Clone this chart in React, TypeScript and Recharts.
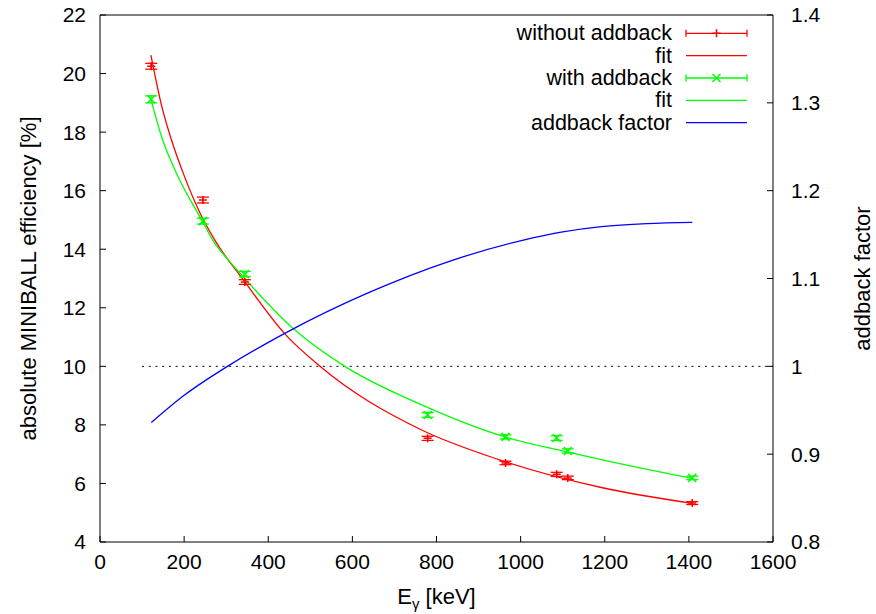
import React from 'react';
import { ComposedChart, Line, Scatter, XAxis, YAxis, ErrorBar, ReferenceLine, Legend } from 'recharts';

// Eu-152 gamma lines [keV]
const energies = [121.8, 244.7, 344.3, 778.9, 964.1, 1085.8, 1112.1, 1408.0];
// efficiency [%] without / with addback
const effWithout = [20.25, 15.68, 12.88, 7.54, 6.70, 6.31, 6.19, 5.33];
const errWithout = [0.1, 0.1, 0.08, 0.07, 0.06, 0.07, 0.06, 0.05];
const effWith = [19.12, 14.96, 13.15, 8.34, 7.59, 7.55, 7.11, 6.19];
const errWith = [0.12, 0.1, 0.09, 0.08, 0.07, 0.08, 0.07, 0.06];

// fit curves
const fitWithoutE = [121, 147, 170, 198, 238, 273, 344, 440, 523, 761, 951, 1189, 1408];
const fitWithoutV = [20.63, 18.87, 17.73, 16.59, 15.23, 14.31, 12.89, 11.1, 10.0, 7.85, 6.8, 5.87, 5.32];
const fitWithE = [121, 149, 182, 244, 268, 307, 344, 460, 582, 761, 965, 1110, 1189, 1408];
const fitWithV = [19.12, 17.73, 16.59, 14.94, 14.31, 13.6, 13.0, 11.28, 10.0, 8.71, 7.58, 7.08, 6.82, 6.17];
// addback factor (right axis)
const factorE = [122, 200, 303, 437, 644, 827, 1009, 1100, 1192, 1300, 1408];
const factorV = [0.936, 0.967, 1.0, 1.037, 1.085, 1.119, 1.144, 1.153, 1.159, 1.1625, 1.164];

const xTicks = [0, 200, 400, 600, 800, 1000, 1200, 1400, 1600];
const leftTicks = [4, 6, 8, 10, 12, 14, 16, 18, 20, 22];
const rightTicks = [0.8, 0.9, 1.0, 1.1, 1.2, 1.3, 1.4];
const unityLine = { from: 100, to: 1600, y: 10 };

const RED = '#ff0000';
const GREEN = '#00ff00';
const BLUE = '#0000ff';
const FONT = '"Liberation Sans", Arial, Helvetica, sans-serif';
const FS = 21;
const TITLE_FS = 22;
const KEY_FS = 21.5;

const PLOT = { left: 100, top: 15, right: 773, bottom: 542 };

const pts = (xs: number[], ys: number[], es?: number[]) =>
  xs.map((x, i) => ({ x, y: ys[i], err: es ? es[i] : 0 }));

const withoutPts = pts(energies, effWithout, errWithout);
const withPts = pts(energies, effWith, errWith);
const fitWithout = pts(fitWithoutE, fitWithoutV);
const fitWith = pts(fitWithE, fitWithV);
const factor = pts(factorE, factorV);

function PlusMark(props: any) {
  const { cx, cy } = props;
  return <path d={`M${cx - 4},${cy}H${cx + 4}M${cx},${cy - 4}V${cy + 4}`} stroke={RED} strokeWidth={1.5} fill="none" />;
}

function CrossMark(props: any) {
  const { cx, cy } = props;
  return (
    <path
      d={`M${cx - 4},${cy - 4}L${cx + 4},${cy + 4}M${cx - 4},${cy + 4}L${cx + 4},${cy - 4}`}
      stroke={GREEN}
      strokeWidth={1.5}
      fill="none"
    />
  );
}

function LeftTitle() {
  const x = 28;
  const y = (PLOT.top + PLOT.bottom) / 2;
  return (
    <text x={x} y={y} transform={`rotate(-90 ${x} ${y})`} textAnchor="middle" dominantBaseline="central" fontSize={TITLE_FS} fill="#000" fontFamily={FONT}>
      absolute MINIBALL efficiency [%]
    </text>
  );
}

function RightTitle() {
  const x = 862;
  const y = (PLOT.top + PLOT.bottom) / 2;
  return (
    <text x={x} y={y} transform={`rotate(-90 ${x} ${y})`} textAnchor="middle" dominantBaseline="central" fontSize={TITLE_FS} fill="#000" fontFamily={FONT}>
      addback factor
    </text>
  );
}

function XTitle() {
  const x = (PLOT.left + PLOT.right) / 2;
  return (
    <text x={x} y={604} textAnchor="middle" fontSize={TITLE_FS} fill="#000" fontFamily={FONT}>
      E<tspan fontSize={15} dy={5}>γ</tspan>
      <tspan dy={-5}> [keV]</tspan>
    </text>
  );
}

const legendRows = [
  { label: 'without addback', color: RED, err: true, mark: 'plus' },
  { label: 'fit', color: RED, err: false, mark: '' },
  { label: 'with addback', color: GREEN, err: true, mark: 'cross' },
  { label: 'fit', color: GREEN, err: false, mark: '' },
  { label: 'addback factor', color: BLUE, err: false, mark: '' },
];

function KeyBox() {
  const x0 = 206;
  const x1 = 267;
  const xm = (x0 + x1) / 2;
  return (
    <svg width={280} height={118} style={{ display: 'block' }}>
      {legendRows.map((r, i) => {
        const y = 13.3 + i * 22.35;
        return (
          <g key={i}>
            <text x={192} y={y} textAnchor="end" dominantBaseline="central" fontSize={KEY_FS} fill="#000" fontFamily={FONT}>
              {r.label}
            </text>
            <line x1={x0} x2={x1} y1={y} y2={y} stroke={r.color} strokeWidth={1.3} />
            {r.err && (
              <path d={`M${x0},${y - 3.5}V${y + 3.5}M${x1},${y - 3.5}V${y + 3.5}`} stroke={r.color} strokeWidth={1.3} />
            )}
            {r.mark === 'plus' && <PlusMark cx={xm} cy={y} />}
            {r.mark === 'cross' && <CrossMark cx={xm} cy={y} />}
          </g>
        );
      })}
    </svg>
  );
}

const axisStroke = { stroke: '#000', strokeWidth: 1 };
const tickStyle = { fill: '#000', fontSize: FS, fontFamily: FONT };

export default function App() {
  return (
    <div style={{ position: 'absolute', left: 0, top: 0, background: '#fff' }}>
      <ComposedChart
        width={876}
        height={614}
        margin={{ top: PLOT.top - 1, right: 876 - PLOT.right - 1, bottom: 614 - PLOT.bottom - 1, left: PLOT.left - 1 }}
      >
        <XAxis
          dataKey="x"
          type="number"
          domain={[0, 1600]}
          ticks={xTicks}
          interval={0}
          height={1}
          tickSize={-6}
          tickMargin={18}
          axisLine={axisStroke}
          tickLine={axisStroke}
          tick={tickStyle}
          label={<XTitle />}
        />
        <XAxis
          xAxisId="top"
          orientation="top"
          dataKey="x"
          type="number"
          domain={[0, 1600]}
          ticks={xTicks}
          interval={0}
          height={1}
          tickSize={-6}
          axisLine={axisStroke}
          tickLine={axisStroke}
          tick={false}
        />
        <YAxis
          yAxisId="left"
          dataKey="y"
          type="number"
          domain={[4, 22]}
          ticks={leftTicks}
          interval={0}
          width={1}
          tickSize={-6}
          tickMargin={20}
          axisLine={axisStroke}
          tickLine={axisStroke}
          tick={tickStyle}
          label={<LeftTitle />}
        />
        <YAxis
          yAxisId="right"
          orientation="right"
          dataKey="y"
          type="number"
          domain={[0.8, 1.4]}
          ticks={rightTicks}
          interval={0}
          width={1}
          tickSize={-6}
          tickMargin={24}
          tickFormatter={(v: number) => String(Math.round(v * 10) / 10)}
          axisLine={axisStroke}
          tickLine={axisStroke}
          tick={tickStyle}
          label={<RightTitle />}
        />
        <ReferenceLine
          yAxisId="left"
          segment={[
            { x: unityLine.from, y: unityLine.y },
            { x: unityLine.to, y: unityLine.y },
          ]}
          stroke="#000"
          strokeWidth={1}
          strokeDasharray="2 4.7"
        />
        <Line yAxisId="left" data={fitWithout} dataKey="y" type="monotone" stroke={RED} strokeWidth={1.3} dot={false} activeDot={false} isAnimationActive={false} />
        <Line yAxisId="left" data={fitWith} dataKey="y" type="monotone" stroke={GREEN} strokeWidth={1.3} dot={false} activeDot={false} isAnimationActive={false} />
        <Line yAxisId="right" data={factor} dataKey="y" type="monotone" stroke={BLUE} strokeWidth={1.3} dot={false} activeDot={false} isAnimationActive={false} />
        <Scatter yAxisId="left" data={withoutPts} dataKey="y" shape={(p: any) => <PlusMark {...p} />} isAnimationActive={false}>
          <ErrorBar dataKey="err" direction="y" width={6} stroke={RED} strokeWidth={1.3} />
        </Scatter>
        <Scatter yAxisId="left" data={withPts} dataKey="y" shape={(p: any) => <CrossMark {...p} />} isAnimationActive={false}>
          <ErrorBar dataKey="err" direction="y" width={6} stroke={GREEN} strokeWidth={1.3} />
        </Scatter>
        <Legend
          layout="vertical"
          align="center"
          verticalAlign="middle"
          content={() => <KeyBox />}
          wrapperStyle={{ left: 480, top: 20, width: 280, height: 118 }}
        />
      </ComposedChart>
    </div>
  );
}
